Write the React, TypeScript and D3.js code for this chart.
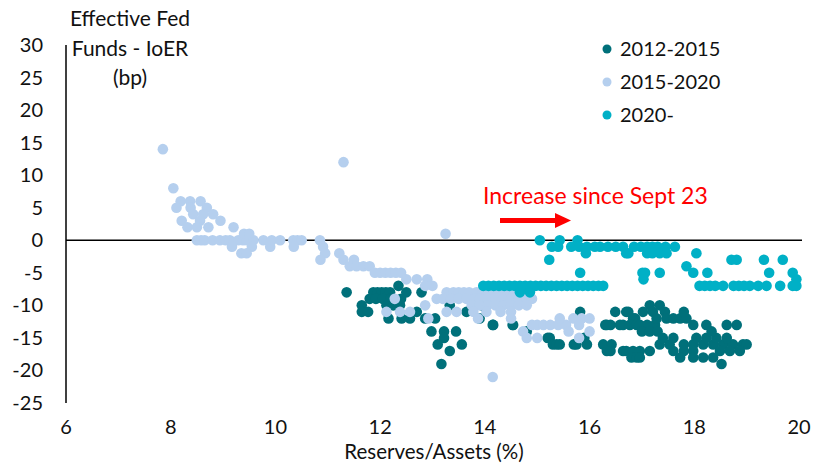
import React from 'react';
import * as d3 from 'd3';

// reserves/assets (%) vs EFFR - IoER (bp)
const series2012: [number, number][] = [
    [11.36, -8], [11.87, -8], [11.95, -8], [12.03, -8], [12.11, -8], [12.19, -8], [12.35, -7], [12.5, -8], [12.79, -8],
    [11.8, -9], [11.92, -9], [12.05, -9], [12.2, -9], [12.4, -9],
    [11.65, -10], [12.12, -10], [12.25, -10], [12.38, -10],
    [11.65, -11], [11.77, -11], [12.7, -11],
    [12.16, -12], [12.41, -12], [12.57, -12], [12.86, -12], [13.05, -12],
    [12.98, -14], [13.22, -14], [13.45, -14], [13.22, -15], [13.1, -16], [13.56, -16], [13.33, -17], [13.17, -19],
    [13.65, -11], [13.94, -10], [13.33, -10], [14.16, -13], [14.54, -13], [14.8, -14],
    [13.97, -10], [13.9, -12], [14.15, -13], [14.53, -13],
    [15.2, -15], [15.24, -15], [15.3, -16], [15.37, -16], [15.43, -16], [15.7, -16], [15.75, -16], [15.9, -15], [15.95, -16], [15.82, -11],
    [16.3, -13], [16.4, -13], [16.33, -13], [16.26, -16], [16.42, -16], [16.33, -17], [16.4, -17], [16.49, -11],
    [16.7, -11], [16.74, -11], [16.83, -12], [16.87, -12], [16.58, -13], [16.64, -13], [16.77, -13], [16.9, -13],
    [16.64, -17], [16.7, -17], [16.83, -17], [16.96, -17], [17.15, -17], [16.8, -18], [16.9, -18], [16.96, -18],
    [16.96, -13], [17.1, -13], [17.25, -13], [17.0, -14], [17.15, -14], [17.3, -14],
    [17.15, -10], [17.34, -10], [17.02, -11], [17.21, -11], [17.44, -11], [17.28, -12], [17.47, -12], [17.6, -12], [17.73, -12], [17.85, -12], [17.8, -11],
    [17.34, -16], [17.53, -16], [17.4, -15], [17.6, -15], [17.6, -17], [17.8, -17], [17.98, -17], [17.73, -18], [17.98, -18], [18.17, -18], [18.36, -18],
    [17.8, -16], [17.98, -16], [18.17, -16], [18.36, -16], [18.55, -16], [18.74, -16], [18.93, -16], [19.0, -16],
    [18.04, -15], [18.23, -15], [18.42, -15], [18.62, -15],
    [17.98, -13], [18.23, -13], [18.33, -14], [18.62, -13], [18.81, -13],
    [18.52, -19], [18.49, -17], [18.68, -17], [18.87, -17],
];

const series2015: [number, number][] = [
    [7.85, 14], [8.05, 8], [8.19, 6], [8.37, 6], [8.57, 6], [8.11, 5], [8.38, 5], [8.69, 5],
    [8.43, 4], [8.62, 4], [8.81, 4], [8.21, 3], [8.56, 3], [8.95, 3], [8.32, 2], [8.5, 2], [8.72, 2], [9.2, 2],
    [8.5, 0], [8.58, 0], [8.65, 0], [8.8, 0], [8.94, 0], [9.05, 0], [9.13, 0], [9.29, 0], [9.38, 0], [9.45, 0], [9.58, 0],
    [9.77, 0], [9.93, 0], [10.09, 0], [10.34, 0], [10.42, 0], [10.5, 0], [10.85, 0],
    [9.4, 1], [9.5, 1], [9.17, -1], [9.55, -1], [9.9, -1], [10.35, -1], [9.35, -2], [9.45, -2],
    [10.91, -1], [10.95, -2], [10.86, -3], [11.3, 12], [11.22, -2], [11.3, -3], [11.5, -3],
    [11.42, -4], [11.55, -4], [11.68, -4], [11.8, -4],
    [11.9, -5], [12.0, -5], [12.1, -5], [12.2, -5], [12.3, -5], [12.4, -5],
    [12.5, -6], [12.7, -6], [12.9, -6], [12.86, -7], [13.0, -7], [13.25, 1],
    [13.27, -8], [13.4, -8], [13.5, -8], [13.6, -8], [13.7, -8], [13.84, -8], [13.95, -8], [14.1, -8], [14.25, -8], [14.4, -8], [14.55, -8], [14.7, -8], [14.85, -8],
    [13.08, -9], [13.2, -9], [13.35, -9], [13.5, -9], [13.65, -9], [13.8, -9], [13.9, -9], [14.05, -9], [14.2, -9], [14.35, -9], [14.5, -9], [14.65, -9], [14.8, -9], [14.9, -9],
    [12.86, -10], [13.75, -10], [13.9, -10], [14.05, -10], [14.2, -10], [14.35, -10], [14.5, -10], [14.65, -10], [14.8, -10],
    [12.28, -9], [12.12, -11], [12.38, -11], [12.57, -11], [13.27, -11], [13.46, -11], [13.78, -11], [14.03, -11],
    [12.92, -12], [13.87, -12], [14.3, -11], [14.5, -11], [14.5, -12], [14.73, -14], [14.8, -15], [15.0, -15],
    [14.9, -13], [15.0, -13], [15.12, -13], [15.25, -13], [15.4, -13], [15.55, -13], [15.6, -14],
    [15.43, -12], [15.69, -12], [15.85, -12], [16.0, -12], [15.8, -13], [16.0, -14], [15.8, -15], [14.15, -21],
];

const series2020: [number, number][] = [
    [15.05, 0], [15.43, 0], [15.77, 0], [15.28, -1], [15.4, -1],
    [15.65, -1], [15.8, -1], [15.95, -1], [16.1, -1], [16.2, -1], [16.35, -1], [16.5, -1], [16.64, -1],
    [16.85, -1], [16.98, -1], [17.1, -1], [17.2, -1], [17.3, -1], [17.45, -1], [17.63, -1],
    [15.93, -2], [16.7, -2], [16.74, -2], [17.1, -2], [17.2, -2], [17.34, -2], [17.47, -2], [18.04, -2],
    [15.23, -3], [15.82, -5], [17.01, -5], [17.06, -5], [17.03, -6], [17.34, -5], [17.85, -4], [17.98, -5], [18.25, -5],
    [18.71, -3], [18.81, -3], [19.33, -3], [19.69, -3], [19.43, -5], [19.88, -5], [19.95, -6],
    [13.97, -7], [14.07, -7], [14.17, -7], [14.27, -7], [14.37, -7], [14.47, -7], [14.57, -7], [14.67, -7],
    [14.77, -7], [14.87, -7], [14.97, -7], [15.07, -7], [15.17, -7], [15.27, -7], [15.37, -7], [15.47, -7],
    [15.57, -7], [15.67, -7], [15.77, -7], [15.87, -7], [15.97, -7], [16.07, -7], [16.17, -7], [16.26, -7],
    [14.67, -8], [14.86, -8],
    [18.1, -7], [18.2, -7], [18.3, -7], [18.4, -7], [18.55, -7], [18.75, -7], [18.85, -7], [18.95, -7],
    [19.06, -7], [19.22, -7], [19.38, -7], [19.64, -7], [19.88, -7], [19.95, -7],
];

const seriesNames = ['2012-2015', '2015-2020', '2020-'];
const seriesColors = ['#00707a', '#b5cfee', '#00b0c6'];
const xTicks = [6, 8, 10, 12, 14, 16, 18, 20];
const yTicks = [30, 25, 20, 15, 10, 5, 0, -5, -10, -15, -20, -25];
const titleLines = ['Effective Fed', 'Funds - IoER', '(bp)'];

const W = 817;
const H = 464;
const font = 'Lato, "Open Sans", sans-serif';

export default function App() {
    const x = d3.scaleLinear().domain([6, 20]).range([66, 799]);
    const y = d3.scaleLinear().domain([-25, 30]).range([403, 45]);
    const all = [series2012, series2015, series2020];

    return (
        <svg width={W} height={H} style={{ position: 'absolute', left: 0, top: 0, background: '#fff' }}
            fontFamily={font} fill="#111">
            {/* y axis + zero line */}
            <line x1={x(6)} x2={x(6)} y1={y(30)} y2={y(-25)} stroke="#000" strokeWidth={1.5} />
            <line x1={x(6)} x2={x(20) + 3} y1={y(0)} y2={y(0)} stroke="#000" strokeWidth={1.5} />

            {yTicks.map(t => (
                <text key={t} x={43} y={y(t)} dy="0.35em" textAnchor="end" fontSize={20}>{t}</text>
            ))}
            {xTicks.map(t => (
                <text key={t} x={x(t)} y={434} textAnchor="middle" fontSize={20}>{t}</text>
            ))}
            <text x={434} y={459} textAnchor="middle" fontSize={20.5}>Reserves/Assets (%)</text>

            {titleLines.map((s, i) => (
                <text key={s} x={130} y={26 + i * 29.5} textAnchor="middle" fontSize={21}>{s}</text>
            ))}

            {all.map((pts, si) => (
                <g key={si} fill={seriesColors[si]}>
                    {pts.map((p, i) => (
                        <circle key={i} cx={x(p[0])} cy={y(p[1])} r={5.3} />
                    ))}
                </g>
            ))}

            {/* legend */}
            {seriesNames.map((n, i) => (
                <g key={n} transform={`translate(607, ${49 + i * 33})`}>
                    <circle r={4.5} fill={seriesColors[i]} />
                    <text x={13} dy="0.35em" fontSize={20}>{n}</text>
                </g>
            ))}

            {/* annotation */}
            <text x={483} y={204} fontSize={23} fill="#ff0000">Increase since Sept 23</text>
            <rect x={500} y={218} width={56} height={5} fill="#ff0000" />
            <path d="M555,213 L571,220.5 L555,228 Z" fill="#ff0000" />
        </svg>
    );
}
